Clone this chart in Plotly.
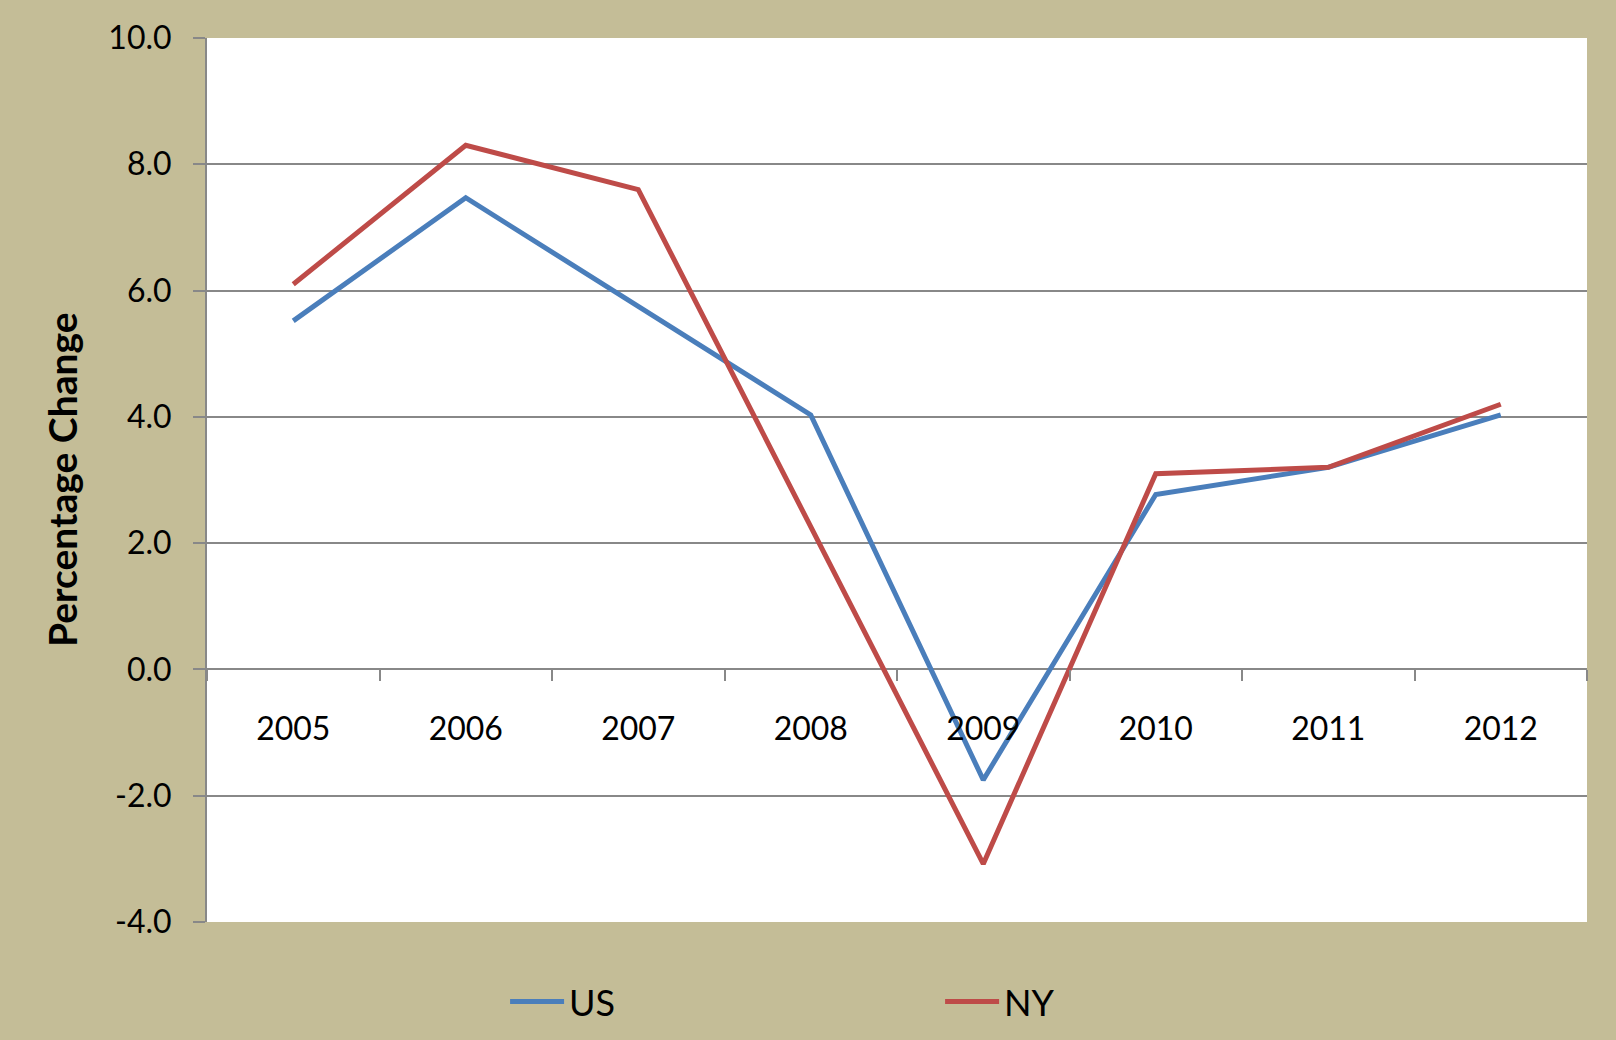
import plotly.graph_objects as go

years = ["2005", "2006", "2007", "2008", "2009", "2010", "2011", "2012"]
us_values = [5.52, 7.47, 5.75, 4.03, -1.75, 2.77, 3.2, 4.03]
ny_values = [6.1, 8.3, 7.6, 2.25, -3.08, 3.1, 3.2, 4.2]
y_ticks = [-4, -2, 0, 2, 4, 6, 8, 10]
y_tick_labels = ["-4.0", "-2.0", "0.0", "2.0", "4.0", "6.0", "8.0", "10.0"]

W, H = 1616, 1040
ML, MR, MT, MB = 207, 29, 38, 118
GRID = "#888888"
FONT = "Lato, Carlito, 'Open Sans', sans-serif"

fig = go.Figure()
fig.add_trace(go.Scatter(x=years, y=us_values, name="US", mode="lines",
                         line=dict(color="#4A7EBB", width=5)))
fig.add_trace(go.Scatter(x=years, y=ny_values, name="NY", mode="lines",
                         line=dict(color="#BE4B48", width=5)))

fig.update_layout(
    width=W, height=H,
    margin=dict(l=ML, r=MR, t=MT, b=MB, pad=0, autoexpand=False),
    paper_bgcolor="#C4BD97",
    plot_bgcolor="#FFFFFF",
    font=dict(family=FONT, color="#000000", size=32),
    showlegend=True,
    legend=dict(orientation="h", x=0.216, xanchor="left", y=-0.09, yanchor="middle",
                font=dict(size=36, family=FONT), bgcolor="rgba(0,0,0,0)",
                itemwidth=54, entrywidth=366, entrywidthmode="pixels",
                traceorder="normal"),
    xaxis=dict(
        type="category", anchor="free", position=4 / 14,
        showgrid=False, zeroline=False, showline=False,
        ticks="outside", tickson="boundaries", ticklen=11, tickwidth=1.5, tickcolor=GRID,
        ticklabelstandoff=38, tickfont=dict(size=32, family=FONT),
        range=[-0.5, 7.5], fixedrange=True,
    ),
    yaxis=dict(
        range=[-4, 10], tickvals=y_ticks, ticktext=y_tick_labels,
        showgrid=True, gridcolor=GRID, gridwidth=1.5,
        zeroline=True, zerolinecolor=GRID, zerolinewidth=1.5,
        showline=True, linecolor=GRID, linewidth=2,
        ticks="outside", ticklen=12, tickwidth=1.5, tickcolor=GRID,
        ticklabelstandoff=15, tickfont=dict(size=32, family=FONT),
        fixedrange=True,
    ),
)

fig.add_annotation(text="<b>Percentage Change</b>", xref="paper", yref="paper",
                   x=(62 - ML) / (W - ML - MR), y=0.5, xanchor="center", yanchor="middle",
                   textangle=-90, showarrow=False, font=dict(size=39, family=FONT, color="#000000"))

fig.write_html("out.html", config={"displayModeBar": False},
               post_script="document.body.style.margin='0';document.body.style.overflow='hidden';")
